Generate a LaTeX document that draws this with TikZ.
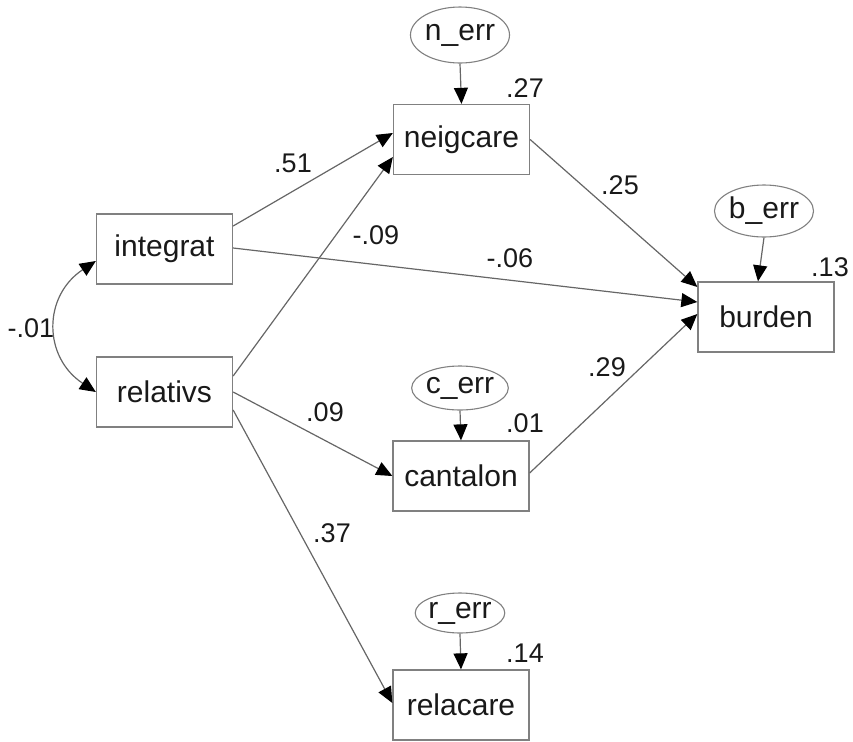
\documentclass[tikz,border=0pt]{standalone}
\usepackage{fontspec}
\setmainfont{Liberation Sans}
\usetikzlibrary{positioning,calc,shapes.geometric,arrows.meta}

\tikzset{
  varbox/.style={draw=black!50, line width=0.65pt, minimum width=68pt, minimum height=35pt,
    inner sep=0pt, text=black!90, font=\fontsize{15}{18}\selectfont},
  errnode/.style={ellipse, draw=black!50, line width=0.55pt, inner sep=0pt, text=black!90,
    font=\fontsize{15}{18}\selectfont},
  regarrow/.style={-{Triangle[length=8pt,width=7pt,color=black]}, draw=black!60, line width=0.6pt},
  coef/.style={text=black!90, font=\fontsize{13.5}{16}\selectfont},
}

\begin{document}
\begin{tikzpicture}[x=0.5pt,y=-0.5pt]
\useasboundingbox (0,0) rectangle (853,741);

% observed variables
\node[varbox] (integrat) at (164.5,249) {integrat};
\node[varbox] (relativs) at (164.5,392) {relativs};
\node[varbox] (neigcare) at (461.5,139.5) {neigcare};
\node[varbox] (cantalon) at (461,476) {cantalon};
\node[varbox] (relacare) at (461,705) {relacare};
\node[varbox] (burden) at (766,317) {burden};

% error terms
\node[errnode, minimum width=47.5pt, minimum height=28pt] (nerr) at (460,35) {n\_err};
\node[errnode, minimum width=44pt, minimum height=26pt] (berr) at (764,211) {b\_err};
\node[errnode, minimum width=44.5pt, minimum height=22pt] (cerr) at (460,388) {c\_err};
\node[errnode, minimum width=44.5pt, minimum height=20pt] (rerr) at (460,613) {r\_err};

\draw[regarrow] (nerr.south) -- (neigcare.north);
\draw[regarrow] (berr.south) -- ($(burden.north)+(-8,0)$);
\draw[regarrow] (cerr.south) -- (cantalon.north);
\draw[regarrow] (rerr.south) -- (relacare.north);

% paths
\draw[regarrow] ($(integrat.east)+(0,-23)$) -- ($(neigcare.west)+(0,-6.5)$);
\draw[regarrow] ($(relativs.east)+(0,-16)$) -- ($(neigcare.west)+(0,17.5)$);
\draw[regarrow] ($(integrat.east)+(0,-1)$) -- ($(burden.west)+(0,-15)$);
\draw[regarrow] (neigcare.east) -- ($(burden.west)+(0,-30)$);
\draw[regarrow] ($(cantalon.east)+(0,-3)$) -- ($(burden.west)+(0,-3)$);
\draw[regarrow] (relativs.east) -- (cantalon.west);
\draw[regarrow] ($(relativs.east)+(0,18)$) -- ($(relacare.west)+(0,-2)$);

% covariance
\draw[{Triangle[length=8pt,width=7pt,color=black]}-{Triangle[length=8pt,width=7pt,color=black]}, draw=black!60, line width=0.6pt]
  ($(integrat.west)+(0,12)$) .. controls +(-53,35) and +(-53,-35) .. (relativs.west);

% coefficients
\node[coef] (c1) at (293,163) {.51};
\node[coef] (c2) at (376,235) {-.09};
\node[coef] (c3) at (510,258) {-.06};
\node[coef] (c4) at (620,185) {.25};
\node[coef] (c5) at (607,367) {.29};
\node[coef] (c6) at (325,412) {.09};
\node[coef] (c7) at (332,533) {.37};
\node[coef] (c8) at (31,328) {-.01};
\node[coef] (r1) at (525,88) {.27};
\node[coef] (r2) at (830,267) {.13};
\node[coef] (r3) at (525,423) {.01};
\node[coef] (r4) at (525,653) {.14};

\end{tikzpicture}
\end{document}
